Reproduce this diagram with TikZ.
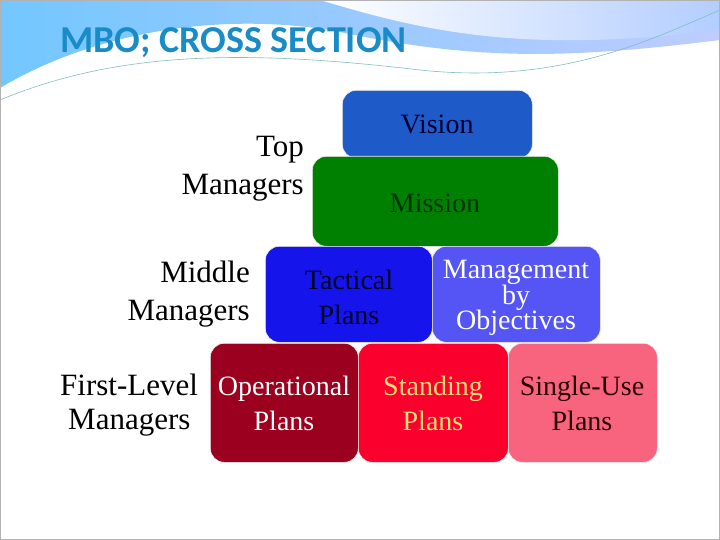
\documentclass[tikz,border=0pt]{standalone}
\usepackage{fontspec}
\setmainfont{Liberation Serif}
\newfontfamily\titlefont{Carlito}
\definecolor{visc}{RGB}{30,90,200}
\definecolor{misc}{RGB}{0,128,0}
\definecolor{tacc}{RGB}{20,20,235}
\definecolor{mboc}{RGB}{85,85,245}
\definecolor{opc}{RGB}{155,0,30}
\definecolor{stc}{RGB}{250,0,45}
\definecolor{suc}{RGB}{248,100,125}
\definecolor{stt}{RGB}{255,220,120}
\definecolor{titc}{RGB}{25,140,200}
\begin{document}
\begin{tikzpicture}[x=1pt,y=-1pt,
  blk/.style={draw=white!85!gray, line width=0.6pt, rounded corners=14pt, inner sep=0pt},
  btxt/.style={align=center, font=\fontsize{28}{35}\selectfont, inner sep=0pt},
  lbl/.style={align=right, font=\fontsize{31}{38}\selectfont, inner sep=0pt}]
\useasboundingbox (0,0) rectangle (720,540);
\fill[white] (0,0) rectangle (720,540);
% decorative swoosh
\shade[left color=cyan!60!blue!55, right color=cyan!20!blue!25]
  (0,0) -- (720,0) -- (720,40) .. controls (560,60) and (470,60) .. (330,30)
  .. controls (200,10) and (80,40) .. (0,88) -- cycle;
\shade[left color=white, right color=cyan!35!blue!30]
  (320,0) .. controls (420,30) and (520,55) .. (720,30) -- (720,0) -- cycle;
\draw[teal!50, line width=0.6pt] (0,100) .. controls (120,50) and (250,50) .. (420,70) .. controls (560,85) and (650,40) .. (720,10);
\draw[gray!60, line width=1pt] (0.5,0.5) rectangle (719.5,539.5);
\node[anchor=west, text=titc, font=\titlefont\bfseries\fontsize{38}{38}\selectfont, inner sep=0pt] (title) at (60,43) {MBO; CROSS SECTION};
% blocks
\node[blk, fill=visc, minimum width=190pt, minimum height=68pt, anchor=north west] (vision) at (342,90) {};
\node[blk, fill=misc, minimum width=246pt, minimum height=90pt, anchor=north west] (mission) at (312,156) {};
\node[btxt, text=black!80!blue] at (437,124) (vt) {Vision};
\node[btxt, text=black!80!green] at (435,203) (mt) {Mission};
\node[blk, fill=tacc, minimum width=167pt, minimum height=96pt, anchor=north west] (tact) at (265,246) {};
\node[blk, fill=mboc, minimum width=168pt, minimum height=96pt, anchor=north west] (mbo) at (432,246) {};
\node[btxt, text=black!85!blue] at (349,297) (tt) {Tactical\\Plans};
\node[btxt, font=\fontsize{28}{25.5}\selectfont, text=white] at (516,298) (mbt) {Management\\by\\Objectives};
\node[blk, fill=opc, minimum width=148pt, minimum height=119pt, anchor=north west] (oper) at (210,343) {};
\node[blk, fill=stc, minimum width=150pt, minimum height=119pt, anchor=north west] (stand) at (358,343) {};
\node[blk, fill=suc, minimum width=149pt, minimum height=119pt, anchor=north west] (single) at (508,343) {};
\node[btxt, text=white] at (284,403) (ot) {Operational\\Plans};
\node[btxt, text=stt] at (433,403) (st) {Standing\\Plans};
\node[btxt, text=black!85!red] at (582,403) (sut) {Single-Use\\Plans};
% labels
\node[lbl, anchor=east] (top) at (304,169) {Top\\Managers};
\node[lbl, anchor=east] (mid) at (250,294) {Middle\\Managers};
\node[lbl, anchor=west] (fl1) at (60,385) {First-Level};
\node[lbl, anchor=west] (fl2) at (68,423) {Managers};
\end{tikzpicture}
\end{document}
